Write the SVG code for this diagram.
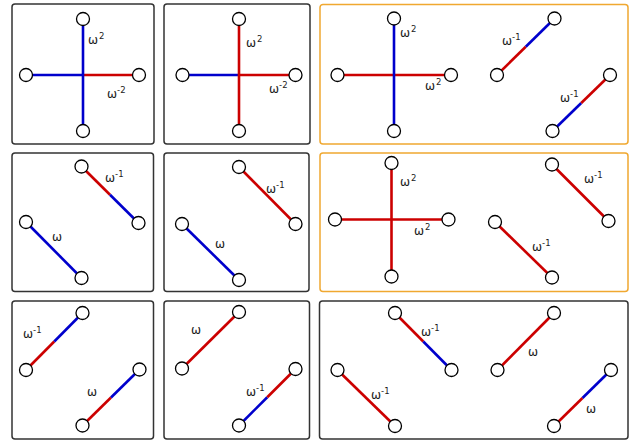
<svg xmlns="http://www.w3.org/2000/svg" width="639" height="444" viewBox="0 0 639 444">
<style>
.box{fill:#fff;stroke:#333;stroke-width:1.5}
.obox{fill:#fff;stroke:#F0A830;stroke-width:1.5}
.b{stroke:#0000CC;stroke-width:2.6;fill:none}
.r{stroke:#CC0000;stroke-width:2.6;fill:none}
.n{fill:#fff;stroke:#000;stroke-width:1.3}
text{font-family:"DejaVu Sans",sans-serif;font-size:12px;fill:#222}
.s{font-size:8.5px}
</style>
<rect width="639" height="444" fill="#fff"/>
<g id="panels">
<rect class="box" x="12" y="4" width="142" height="140" rx="3"/>
<rect class="box" x="164" y="4" width="146" height="140" rx="3"/>
<rect class="obox" x="320" y="4.5" width="308" height="139.5" rx="3"/>
<rect class="box" x="12" y="153" width="141.5" height="138.5" rx="3"/>
<rect class="box" x="164" y="153" width="145" height="138.5" rx="3"/>
<rect class="obox" x="320" y="153" width="308" height="138.5" rx="3"/>
<rect class="box" x="12" y="301" width="141.5" height="138" rx="3"/>
<rect class="box" x="164" y="301" width="145.5" height="138" rx="3"/>
<rect class="box" x="319.5" y="301" width="308.5" height="138" rx="3"/>
</g>
<g id="connectors">
<line class="b" x1="26" y1="75" x2="83" y2="75"/>
<line class="r" x1="83" y1="75" x2="139" y2="75"/>
<line class="b" x1="83" y1="19" x2="83" y2="131"/>
<line class="b" x1="182.5" y1="75" x2="239" y2="75"/>
<line class="r" x1="239" y1="75" x2="295.5" y2="75"/>
<line class="r" x1="239" y1="19" x2="239" y2="131"/>
<line class="r" x1="337.5" y1="75" x2="451" y2="75"/>
<line class="b" x1="394" y1="18.5" x2="394" y2="131"/>
<line class="r" x1="497" y1="75" x2="525.75" y2="46.75"/>
<line class="b" x1="525.75" y1="46.75" x2="554.5" y2="18.5"/>
<line class="b" x1="552.5" y1="131" x2="581.25" y2="103"/>
<line class="r" x1="581.25" y1="103" x2="610" y2="75"/>
<line class="r" x1="81.5" y1="166.5" x2="110" y2="194.75"/>
<line class="b" x1="110" y1="194.75" x2="138.5" y2="223"/>
<line class="b" x1="26" y1="222" x2="81.5" y2="278"/>
<line class="r" x1="239" y1="167" x2="295.5" y2="224"/>
<line class="b" x1="182" y1="224" x2="239" y2="280"/>
<line class="r" x1="335" y1="219.5" x2="448.5" y2="219.5"/>
<line class="r" x1="391.5" y1="163" x2="391.5" y2="276.5"/>
<line class="r" x1="552" y1="164.5" x2="608.5" y2="221"/>
<line class="r" x1="495" y1="222" x2="552" y2="277.5"/>
<line class="r" x1="26" y1="370" x2="54.25" y2="341.5"/>
<line class="b" x1="54.25" y1="341.5" x2="82.5" y2="313"/>
<line class="r" x1="82.5" y1="425.5" x2="111" y2="397.5"/>
<line class="b" x1="111" y1="397.5" x2="139.5" y2="369.5"/>
<line class="r" x1="182" y1="368.5" x2="239" y2="312"/>
<line class="b" x1="239" y1="425.5" x2="267.25" y2="397.25"/>
<line class="r" x1="267.25" y1="397.25" x2="295.5" y2="369"/>
<line class="r" x1="395" y1="313" x2="423.25" y2="341.5"/>
<line class="b" x1="423.25" y1="341.5" x2="451.5" y2="370"/>
<line class="r" x1="337.5" y1="370" x2="395" y2="426"/>
<line class="r" x1="497.5" y1="370" x2="554" y2="313"/>
<line class="r" x1="554" y1="426" x2="582.5" y2="398"/>
<line class="b" x1="582.5" y1="398" x2="611" y2="370"/>
</g>
<g id="nodes">
<g id="n1a"><circle class="n" cx="83" cy="19" r="6.5"/></g>
<g id="n1b"><circle class="n" cx="26" cy="75" r="6.5"/></g>
<g id="n1c"><circle class="n" cx="139" cy="75" r="6.5"/></g>
<g id="n1d"><circle class="n" cx="83" cy="131" r="6.5"/></g>
<g id="n2a"><circle class="n" cx="239" cy="19" r="6.5"/></g>
<g id="n2b"><circle class="n" cx="182.5" cy="75" r="6.5"/></g>
<g id="n2c"><circle class="n" cx="295.5" cy="75" r="6.5"/></g>
<g id="n2d"><circle class="n" cx="239" cy="131" r="6.5"/></g>
<g id="n3a"><circle class="n" cx="394" cy="18.5" r="6.5"/></g>
<g id="n3b"><circle class="n" cx="337.5" cy="75" r="6.5"/></g>
<g id="n3c"><circle class="n" cx="451" cy="75" r="6.5"/></g>
<g id="n3d"><circle class="n" cx="394" cy="131" r="6.5"/></g>
<g id="n3e"><circle class="n" cx="497" cy="75" r="6.5"/></g>
<g id="n3f"><circle class="n" cx="554.5" cy="18.5" r="6.5"/></g>
<g id="n3g"><circle class="n" cx="552.5" cy="131" r="6.5"/></g>
<g id="n3h"><circle class="n" cx="610" cy="75" r="6.5"/></g>
<g id="n4a"><circle class="n" cx="81.5" cy="166.5" r="6.5"/></g>
<g id="n4b"><circle class="n" cx="138.5" cy="223" r="6.5"/></g>
<g id="n4c"><circle class="n" cx="26" cy="222" r="6.5"/></g>
<g id="n4d"><circle class="n" cx="81.5" cy="278" r="6.5"/></g>
<g id="n5a"><circle class="n" cx="239" cy="167" r="6.5"/></g>
<g id="n5b"><circle class="n" cx="295.5" cy="224" r="6.5"/></g>
<g id="n5c"><circle class="n" cx="182" cy="224" r="6.5"/></g>
<g id="n5d"><circle class="n" cx="239" cy="280" r="6.5"/></g>
<g id="n6a"><circle class="n" cx="391.5" cy="163" r="6.5"/></g>
<g id="n6b"><circle class="n" cx="335" cy="219.5" r="6.5"/></g>
<g id="n6c"><circle class="n" cx="448.5" cy="219.5" r="6.5"/></g>
<g id="n6d"><circle class="n" cx="391.5" cy="276.5" r="6.5"/></g>
<g id="n6e"><circle class="n" cx="552" cy="164.5" r="6.5"/></g>
<g id="n6f"><circle class="n" cx="608.5" cy="221" r="6.5"/></g>
<g id="n6g"><circle class="n" cx="495" cy="222" r="6.5"/></g>
<g id="n6h"><circle class="n" cx="552" cy="277.5" r="6.5"/></g>
<g id="n7a"><circle class="n" cx="26" cy="370" r="6.5"/></g>
<g id="n7b"><circle class="n" cx="82.5" cy="313" r="6.5"/></g>
<g id="n7c"><circle class="n" cx="82.5" cy="425.5" r="6.5"/></g>
<g id="n7d"><circle class="n" cx="139.5" cy="369.5" r="6.5"/></g>
<g id="n8a"><circle class="n" cx="182" cy="368.5" r="6.5"/></g>
<g id="n8b"><circle class="n" cx="239" cy="312" r="6.5"/></g>
<g id="n8c"><circle class="n" cx="239" cy="425.5" r="6.5"/></g>
<g id="n8d"><circle class="n" cx="295.5" cy="369" r="6.5"/></g>
<g id="n9a"><circle class="n" cx="395" cy="313" r="6.5"/></g>
<g id="n9b"><circle class="n" cx="451.5" cy="370" r="6.5"/></g>
<g id="n9c"><circle class="n" cx="337.5" cy="370" r="6.5"/></g>
<g id="n9d"><circle class="n" cx="395" cy="426" r="6.5"/></g>
<g id="n9e"><circle class="n" cx="497.5" cy="370" r="6.5"/></g>
<g id="n9f"><circle class="n" cx="554" cy="313" r="6.5"/></g>
<g id="n9g"><circle class="n" cx="554" cy="426" r="6.5"/></g>
<g id="n9h"><circle class="n" cx="611" cy="370" r="6.5"/></g>
</g>
<g id="labels">
<text x="88" y="43.5">ω<tspan class="s" dx="1" dy="-5">2</tspan></text>
<text x="107" y="98">ω<tspan class="s" dy="-5">-2</tspan></text>
<text x="246" y="47">ω<tspan class="s" dx="1" dy="-5">2</tspan></text>
<text x="269" y="93">ω<tspan class="s" dy="-5">-2</tspan></text>
<text x="400" y="37">ω<tspan class="s" dx="1" dy="-5">2</tspan></text>
<text x="425" y="90">ω<tspan class="s" dx="1" dy="-5">2</tspan></text>
<text x="502" y="45">ω<tspan class="s" dy="-5">-1</tspan></text>
<text x="560" y="101.5">ω<tspan class="s" dy="-5">-1</tspan></text>
<text x="105" y="182">ω<tspan class="s" dy="-5">-1</tspan></text>
<text x="52" y="241">ω</text>
<text x="266" y="193">ω<tspan class="s" dy="-5">-1</tspan></text>
<text x="215" y="248">ω</text>
<text x="400" y="186">ω<tspan class="s" dx="1" dy="-5">2</tspan></text>
<text x="414" y="234.5">ω<tspan class="s" dx="1" dy="-5">2</tspan></text>
<text x="584" y="183">ω<tspan class="s" dy="-5">-1</tspan></text>
<text x="532" y="251">ω<tspan class="s" dy="-5">-1</tspan></text>
<text x="23" y="337.5">ω<tspan class="s" dy="-5">-1</tspan></text>
<text x="87" y="396">ω</text>
<text x="191" y="334">ω</text>
<text x="246" y="396">ω<tspan class="s" dy="-5">-1</tspan></text>
<text x="421" y="336">ω<tspan class="s" dy="-5">-1</tspan></text>
<text x="371" y="399">ω<tspan class="s" dy="-5">-1</tspan></text>
<text x="528" y="356">ω</text>
<text x="586" y="412.5">ω</text>
</g>
</svg>
